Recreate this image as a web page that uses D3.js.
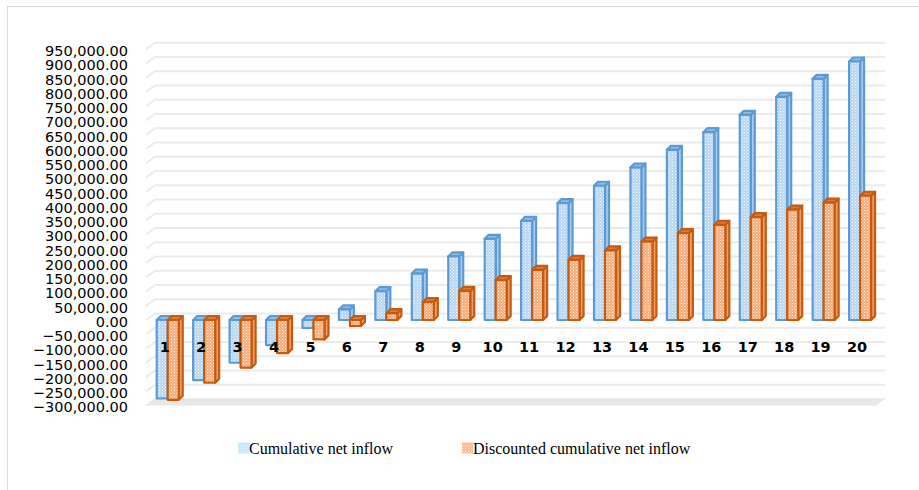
<!DOCTYPE html>
<html>
<head>
<meta charset="utf-8">
<script src="https://cdn.jsdelivr.net/npm/d3@7"></script>
<style>
  body { margin: 0; background: #fff; }
  svg { display: block; }
</style>
</head>
<body>
<div id="chart"></div>
<script>
// years 1..20
const categories = ["1", "2", "3", "4", "5", "6", "7", "8", "9", "10",
  "11", "12", "13", "14", "15", "16", "17", "18", "19", "20"];

const cumulative = [-275000, -211000, -150000, -88000, -28000, 37000, 101000, 163000, 223000, 285000,
  348000, 410000, 471000, 535000, 597000, 659000, 720000, 783000, 846000, 907000];

const discounted = [-280000, -220000, -167000, -116000, -68000, -21000, 24000, 63000, 102000, 140000,
  176000, 211000, 244000, 275000, 305000, 334000, 361000, 387000, 412000, 436000];

const tickValues = d3.range(-300000, 950001, 50000);

const seriesNames = ["Cumulative net inflow", "Discounted cumulative net inflow"];

const width = 919;
const height = 490;

// 3d offsets
const depthX = 4;
const depthY = -4;
const wallX = 9;
const wallY = -6.5;
const barW = 11;

const svg = d3.select("#chart")
  .append("svg")
  .attr("width", width)
  .attr("height", height);

svg.append("rect")
  .attr("width", width)
  .attr("height", height)
  .attr("fill", "#fff");

// chart border
svg.append("rect")
  .attr("x", 7.5)
  .attr("y", 6.5)
  .attr("width", width)
  .attr("height", height)
  .attr("fill", "none")
  .attr("stroke", "#d9d9d9")
  .attr("stroke-width", 1);

// white dot texture laid over solid fills
const defs = svg.append("defs");
const dots = defs.append("pattern")
  .attr("id", "dots")
  .attr("width", 3)
  .attr("height", 3)
  .attr("patternUnits", "userSpaceOnUse");
dots.append("rect").attr("width", 1).attr("height", 1).attr("fill", "#fff").attr("fill-opacity", 0.8);
dots.append("rect").attr("x", 1.5).attr("y", 1.5).attr("width", 1).attr("height", 1).attr("fill", "#fff").attr("fill-opacity", 0.5);

const y = d3.scaleLinear()
  .domain([0, 950000])
  .range([320, 320 - 270.75]);

const x = d3.scaleBand()
  .domain(categories)
  .range([149.5, 878.3]);

const gridLeft = 146;
const gridRight = 885;

// back wall gridlines with side wall diagonal
const grid = svg.append("g")
  .attr("fill", "none")
  .attr("stroke", "#ebebeb")
  .attr("stroke-width", 2);

grid.selectAll("path")
  .data(tickValues)
  .enter().append("path")
  .attr("d", d => {
    const yy = y(d);
    return `M${gridLeft},${yy}L${gridLeft + wallX},${yy + wallY}L${gridRight},${yy + wallY}`;
  });

// floor
const yFloor = y(-300000);
svg.append("path")
  .attr("d", `M${gridLeft},${yFloor}L${gridLeft + wallX},${yFloor + wallY}L${gridRight},${yFloor + wallY}L${gridRight - wallX},${yFloor}Z`)
  .attr("fill", "#e8e8e8");

// y axis labels
svg.append("g")
  .selectAll("text")
  .data(tickValues)
  .enter().append("text")
  .attr("x", 128)
  .attr("y", d => y(d) + 1.7)
  .attr("dy", "0.35em")
  .attr("text-anchor", "end")
  .attr("font-family", "DejaVu Sans, sans-serif")
  .attr("font-size", "14.5px")
  .attr("fill", "#000")
  .text(d => d3.format(",.2f")(d));

function drawBars(values, offset, frontFill, edge, sideFill, topFill) {
  const g = svg.append("g")
    .attr("stroke", edge)
    .attr("stroke-width", 2.2)
    .attr("stroke-linejoin", "round");

  const bars = g.selectAll("g")
    .data(values.map((v, i) => ({ c: categories[i], v })))
    .enter().append("g");

  const left = d => x(d.c) + x.bandwidth() / 2 + offset;
  const top = d => Math.min(y(0), y(d.v));
  const bottom = d => Math.max(y(0), y(d.v));

  // side face
  bars.append("path")
    .attr("fill", sideFill)
    .attr("d", d => {
      const r = left(d) + barW;
      return `M${r},${top(d)}L${r + depthX},${top(d) + depthY}L${r + depthX},${bottom(d) + depthY}L${r},${bottom(d)}Z`;
    });

  // top face
  bars.append("path")
    .attr("fill", topFill)
    .attr("d", d => {
      const l = left(d);
      const t = top(d);
      return `M${l},${t}L${l + depthX},${t + depthY}L${l + barW + depthX},${t + depthY}L${l + barW},${t}Z`;
    });

  // front face
  bars.append("rect")
    .attr("fill", frontFill)
    .attr("x", left)
    .attr("y", top)
    .attr("width", barW)
    .attr("height", d => bottom(d) - top(d));

  bars.append("rect")
    .attr("fill", "url(#dots)")
    .attr("stroke", "none")
    .attr("x", d => left(d) + 1.2)
    .attr("y", d => top(d) + 1.2)
    .attr("width", barW - 2.4)
    .attr("height", d => Math.max(0, bottom(d) - top(d) - 2.4));
}

drawBars(cumulative, -barW, "#b9d7f2", "#5b9bd5", "#aacbec", "#8fbbe6");
drawBars(discounted, 0, "#f5ad7c", "#c55a11", "#ef9f66", "#dd7a36");

// category labels
svg.append("g")
  .selectAll("text")
  .data(categories)
  .enter().append("text")
  .attr("x", d => x(d) + x.bandwidth() / 2 - 3)
  .attr("y", 347)
  .attr("dy", "0.35em")
  .attr("text-anchor", "middle")
  .attr("font-family", "DejaVu Sans, sans-serif")
  .attr("font-weight", "bold")
  .attr("font-size", "14.5px")
  .attr("fill", "#000")
  .text(d => d);

// legend
const legendItems = [
  { name: seriesNames[0], fill: "#c4e8fb", x: 238 },
  { name: seriesNames[1], fill: "#f9bb8e", x: 462 }
];

const legend = svg.append("g")
  .selectAll("g")
  .data(legendItems)
  .enter().append("g")
  .attr("transform", d => `translate(${d.x},448)`);

legend.append("rect")
  .attr("x", 0)
  .attr("y", -5.5)
  .attr("width", 11)
  .attr("height", 11)
  .attr("fill", d => d.fill);

legend.append("rect")
  .attr("x", 0)
  .attr("y", -5.5)
  .attr("width", 11)
  .attr("height", 11)
  .attr("fill", "url(#dots)");

legend.append("text")
  .attr("x", 11)
  .attr("dy", "0.35em")
  .attr("font-family", "Liberation Serif, serif")
  .attr("font-size", "16px")
  .attr("fill", "#000")
  .text(d => d.name);
</script>
</body>
</html>
